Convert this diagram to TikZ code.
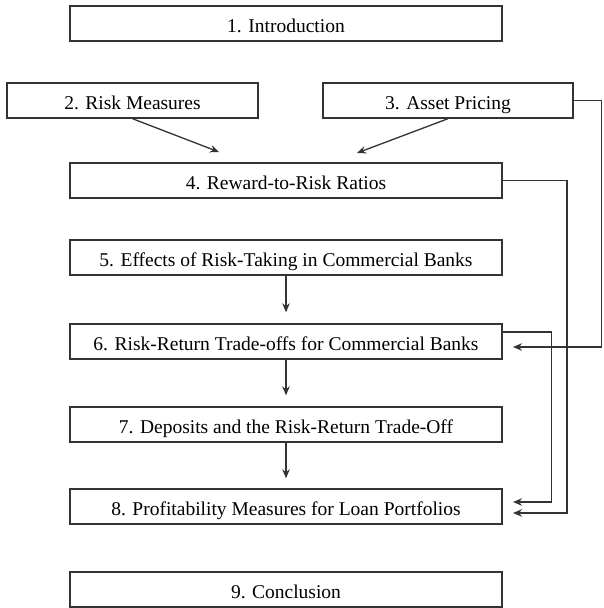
\documentclass[tikz,border=0pt]{standalone}
\usepackage{fontspec}
\setmainfont{Liberation Serif}
\usepackage{tikz}
\usetikzlibrary{arrows.meta}
\definecolor{boxline}{gray}{0.2}

\begin{document}
\begin{tikzpicture}[
	x=1pt, y=-1pt,
	font=\fontsize{19.5}{23}\selectfont,
	chapter/.style={draw=boxline, line width=1.4pt, text=black,
		minimum height=35pt, inner sep=0pt,
		text height=17pt, text depth=0pt},
	wide/.style={chapter, minimum width=432pt},
	flow/.style={color=boxline, line width=1.3pt,
		-{Stealth[length=9pt, width=7.5pt]}}
	]
	
	\useasboundingbox (0,0) rectangle (603,608);
	
	% chapters
	\node[wide] (intro) at (286,23.5)
		{1. Introduction};
	\node[chapter, minimum width=251pt] (riskm) at (132.5,100.5)
		{2. Risk Measures};
	\node[chapter, minimum width=250pt] (asset) at (448,100.5)
		{3. Asset Pricing};
	\node[wide] (ratios) at (286,180.5)
		{4. Reward-to-Risk Ratios};
	\node[wide] (effects) at (286,257.5)
		{5. Effects of Risk-Taking in Commercial Banks};
	\node[wide] (tradeoffs) at (286,341.5)
		{6. Risk-Return Trade-offs for Commercial Banks};
	\node[wide] (deposits) at (286,424.5)
		{7. Deposits and the Risk-Return Trade-Off};
	\node[wide] (profit) at (286,506.5)
		{8. Profitability Measures for Loan Portfolios};
	\node[wide] (concl) at (286,589.5)
		{9. Conclusion};
	
	% loose arrow ends
	\coordinate (inratiosA) at (219,152);
	\coordinate (inratiosB) at (357,153);
	\coordinate (intrade) at (513,347);
	\coordinate (inprofitA) at (513,502);
	\coordinate (inprofitB) at (513,513);
	
	\draw[flow] (riskm.south) -- (inratiosA);
	\draw[flow] (asset.south) -- (inratiosB);
	\draw[flow, shorten >=11pt] (effects) -- (tradeoffs);
	\draw[flow, shorten >=11pt] (tradeoffs) -- (deposits);
	\draw[flow, shorten >=10pt] (deposits) -- (profit);
	
	% links on the right
	\draw[flow]
		(asset.east) -- (601.5,100.5) |- (intrade);
	\draw[flow]
		(ratios.east) -- (567,180.5) |- (inprofitB);
	\draw[flow]
		([yshift=9.5pt]tradeoffs.east) -- ++(49,0) |- (inprofitA);
\end{tikzpicture}
\end{document}
